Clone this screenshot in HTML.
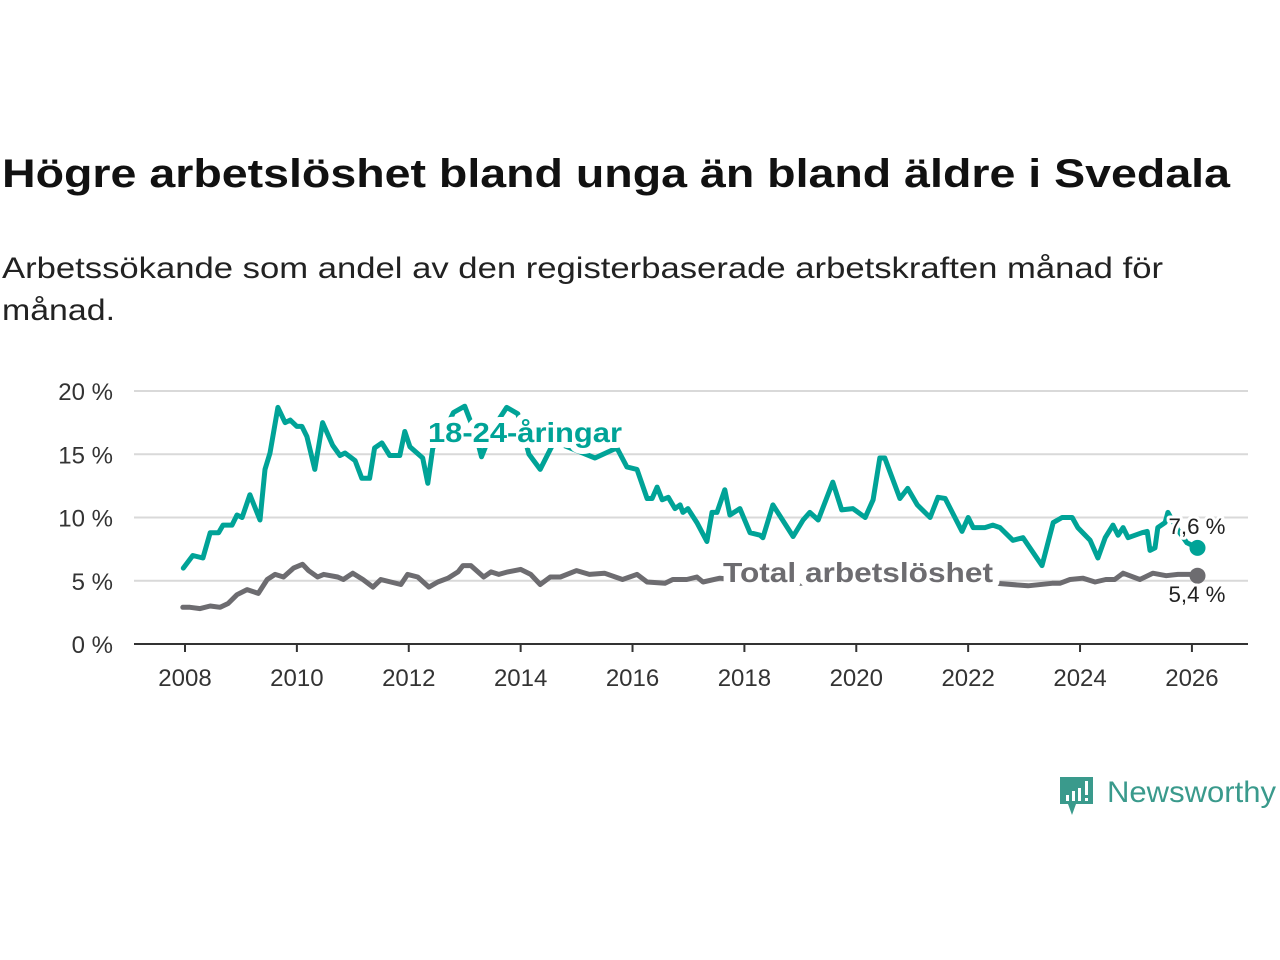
<!DOCTYPE html>
<html><head><meta charset="utf-8"><style>
html,body{margin:0;padding:0;background:#fff;width:1280px;height:960px;overflow:hidden}
svg{display:block;font-family:"Liberation Sans","DejaVu Sans",sans-serif}
</style></head><body>
<svg id="chart" width="1280" height="960" viewBox="0 0 1280 960">
<text x="2" y="187" font-size="40" font-weight="bold" fill="#111" textLength="1228" lengthAdjust="spacingAndGlyphs">Högre arbetslöshet bland unga än bland äldre i Svedala</text>
<text x="2" y="278" font-size="30" fill="#222" textLength="1161" lengthAdjust="spacingAndGlyphs">Arbetssökande som andel av den registerbaserade arbetskraften månad för</text>
<text x="2" y="320" font-size="30" fill="#222" textLength="113" lengthAdjust="spacingAndGlyphs">månad.</text>
<g id="grid"></g>
<g id="axes"></g>
<g id="lines"></g>
<g id="labels"></g>
<g>
<path d="M1060 777 h33 v27 h-17 l-4 11 l-4 -11 h-8 z" fill="#3a9a8c"/>
<rect x="1066" y="795" width="3" height="6" fill="#fff"/>
<rect x="1072" y="791" width="3" height="10" fill="#fff"/>
<rect x="1078" y="788" width="3" height="13" fill="#fff"/>
<rect x="1085" y="781" width="3" height="14" fill="#fff"/>
<rect x="1085" y="798" width="3" height="3" fill="#fff"/>
<text x="1107" y="802" font-size="30" fill="#3a9a8c" textLength="169" lengthAdjust="spacingAndGlyphs">Newsworthy</text>
</g>
</svg>
<script>
const yTicks = [0,5,10,15,20];
const yTickLabels = ["0 %","5 %","10 %","15 %","20 %"];
const xTicks = [2008,2010,2012,2014,2016,2018,2020,2022,2024,2026];
const youthDates = [
2007.97,2008.14,2008.32,2008.45,2008.6,2008.68,2008.84,2008.93,2009.02,2009.16,
2009.34,2009.43,2009.52,2009.66,2009.79,2009.88,2010.0,2010.09,2010.18,2010.32,
2010.46,2010.64,2010.77,2010.86,2011.04,2011.16,2011.3,2011.39,2011.52,2011.66,
2011.84,2011.93,2012.02,2012.25,2012.34,2012.43,2012.6,2012.8,2013.0,2013.2,
2013.3,2013.5,2013.75,2013.95,2014.15,2014.35,2014.6,2015.0,2015.33,2015.72,
2015.9,2016.08,2016.26,2016.35,2016.44,2016.53,2016.64,2016.76,2016.85,2016.9,
2016.99,2017.15,2017.33,2017.42,2017.51,2017.65,2017.74,2017.92,2018.1,2018.28,
2018.33,2018.51,2018.87,2019.05,2019.17,2019.32,2019.58,2019.74,2019.94,2020.16,
2020.3,2020.42,2020.51,2020.78,2020.92,2021.09,2021.32,2021.46,2021.59,2021.89,
2022.0,2022.09,2022.3,2022.44,2022.57,2022.8,2022.98,2023.32,2023.52,2023.68,
2023.86,2023.96,2024.18,2024.32,2024.45,2024.59,2024.68,2024.77,2024.86,2025.11,
2025.2,2025.25,2025.34,2025.39,2025.52,2025.57,2025.75,2025.91,2026.1];
const youthValues = [
6.0,7.0,6.8,8.8,8.8,9.4,9.4,10.2,10.0,11.8,
9.8,13.8,15.1,18.7,17.5,17.7,17.2,17.2,16.4,13.8,
17.5,15.7,14.9,15.1,14.5,13.1,13.1,15.5,15.9,14.9,
14.9,16.8,15.6,14.7,12.7,15.5,16.5,18.3,18.8,16.5,
14.8,17.0,18.7,18.2,15.0,13.8,16.0,15.3,14.7,15.5,
14.0,13.8,11.5,11.5,12.4,11.4,11.6,10.7,11.0,10.4,
10.7,9.6,8.1,10.4,10.4,12.2,10.2,10.7,8.8,8.6,
8.4,11.0,8.5,9.8,10.4,9.8,12.8,10.6,10.7,10.0,
11.4,14.7,14.7,11.5,12.3,11.0,10.0,11.6,11.5,8.9,
10.0,9.2,9.2,9.4,9.2,8.2,8.4,6.2,9.6,10.0,
10.0,9.2,8.2,6.8,8.4,9.4,8.6,9.2,8.4,8.8,
8.9,7.4,7.6,9.2,9.6,10.4,9.0,8.0,7.6];
const totalDates = [2007.96,2008.09,2008.27,2008.45,2008.63,2008.77,2008.93,2009.11,2009.31,2009.47,2009.61,2009.76,2009.94,2010.1,2010.21,2010.37,2010.48,2010.73,2010.83,2011.0,2011.18,2011.36,2011.5,2011.86,2011.98,2012.16,2012.36,2012.52,2012.7,2012.88,2012.97,2013.11,2013.34,2013.47,2013.61,2013.77,2014.0,2014.18,2014.35,2014.53,2014.71,2015.0,2015.23,2015.5,2015.82,2016.08,2016.26,2016.58,2016.72,2016.97,2017.15,2017.26,2017.56,2018.0,2018.5,2019.0,2019.5,2020.0,2020.5,2021.0,2021.5,2022.0,2022.5,2023.07,2023.5,2023.64,2023.82,2024.05,2024.27,2024.46,2024.62,2024.77,2025.07,2025.3,2025.54,2025.75,2025.96,2026.1];
const totalValues = [2.9,2.9,2.8,3.0,2.9,3.2,3.9,4.3,4.0,5.1,5.5,5.3,6.0,6.3,5.8,5.3,5.5,5.3,5.1,5.6,5.1,4.5,5.1,4.7,5.5,5.3,4.5,4.9,5.2,5.7,6.2,6.2,5.3,5.7,5.5,5.7,5.9,5.5,4.7,5.3,5.3,5.8,5.5,5.6,5.1,5.5,4.9,4.8,5.1,5.1,5.3,4.9,5.2,5.0,4.9,4.8,5.0,5.6,6.2,5.8,5.6,5.0,4.8,4.6,4.8,4.8,5.1,5.2,4.9,5.1,5.1,5.6,5.1,5.6,5.4,5.5,5.5,5.4];
const NS="http://www.w3.org/2000/svg";
const X0=134,X1=1248;
function xs(y){return 185+(y-2008)*55.94;}
function ys(v){return 644-v*12.65;}
function mk(tag,attrs,parent){const e=document.createElementNS(NS,tag);for(const k in attrs)e.setAttribute(k,attrs[k]);parent.appendChild(e);return e;}
const grid=document.getElementById('grid'),axes=document.getElementById('axes'),lines=document.getElementById('lines'),labels=document.getElementById('labels');
yTicks.forEach((t,i)=>{
  if(t>0){const g=mk('line',{x1:X0,x2:X1,y1:ys(t),y2:ys(t),stroke:'#d9d9d9','stroke-width':2},grid);
  
  }
  const l=mk('text',{x:113,y:ys(t)+9,'text-anchor':'end','font-size':24,fill:'#333'},axes);
  l.textContent=yTickLabels[i];
  
  
});
const ax=mk('line',{x1:X0,x2:X1,y1:644,y2:644,stroke:'#333','stroke-width':2},axes);


xTicks.forEach(t=>{
  mk('line',{x1:xs(t),x2:xs(t),y1:644,y2:652,stroke:'#333','stroke-width':2},axes);
  const l=mk('text',{x:xs(t),y:686,'text-anchor':'middle','font-size':24,fill:'#333'},axes);
  l.textContent=String(t);
  
  
});
function drawLine(d,v,col,name){
  const p=mk('polyline',{points:d.map((x,i)=>xs(x).toFixed(1)+','+ys(v[i]).toFixed(1)).join(' '),fill:'none',stroke:col,'stroke-width':5,'stroke-linejoin':'round','stroke-linecap':'round'},lines);
  
  
  const n=d.length-1;
  const c=mk('circle',{cx:xs(d[n]),cy:ys(v[n]),r:8,fill:col},lines);
  
  
}
drawLine(totalDates,totalValues,'#6d6c70','total-line');
drawLine(youthDates,youthValues,'#00a397','youth-line');
function lab(x,y,txt,size,col,bold,name,len){
  const t=mk('text',{x:x,y:y,'text-anchor':'middle','font-size':size,fill:col,'font-weight':bold?'bold':'normal',stroke:'#fff','stroke-width':bold?12:6,'paint-order':'stroke','stroke-linejoin':'round'},labels);
  if(len){t.setAttribute('textLength',len);t.setAttribute('lengthAdjust','spacingAndGlyphs');}
  t.textContent=txt;
  
  
}
lab(525,442,'18-24-åringar',28,'#00a397',true,'youth-series-label',194);
lab(858,582,'Total arbetslöshet',28,'#6d6c70',true,'total-series-label',270);
lab(1197,534,'7,6 %',22,'#222',false,'youth-end-value',57);
lab(1197,602,'5,4 %',22,'#222',false,'total-end-value',57);
</script>
</body></html>
